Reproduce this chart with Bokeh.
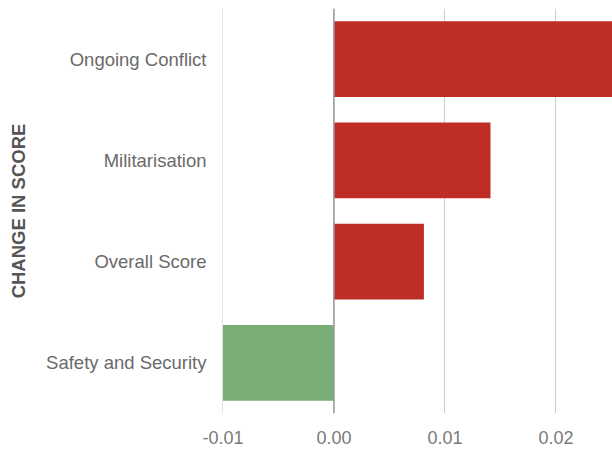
from bokeh.plotting import figure
from bokeh.models import FactorRange, Range1d, FixedTicker, NumeralTickFormatter, Span, ColumnDataSource
from bokeh.embed import file_html
from bokeh.resources import INLINE

# ---- data ----
categories = ["Ongoing Conflict", "Militarisation", "Overall Score", "Safety and Security"]
changes = [0.0258, 0.0141, 0.0081, -0.0100]
x_ticks = [-0.01, 0.0, 0.01, 0.02]
axis_title = "CHANGE IN SCORE"

POS_COLOR = "#BE2E26"
NEG_COLOR = "#79AE77"
FONT = "Liberation Sans"

colors = [POS_COLOR if v > 0 else NEG_COLOR for v in changes]
src = ColumnDataSource(dict(cat=categories, val=changes, color=colors))

p = figure(
    y_range=FactorRange(factors=list(reversed(categories))),
    x_range=Range1d(-0.01004, 0.02509),
    width=612, height=450,
    output_backend="svg", toolbar_location=None,
    min_border_left=222, min_border_right=0,
    min_border_top=8, min_border_bottom=37,
)
p.outline_line_color = None
p.background_fill_color = "white"
p.border_fill_color = "white"

p.hbar(y="cat", left=0, right="val", height=0.75, fill_color="color",
       line_color=None, source=src)

# grid
p.xgrid.ticker = FixedTicker(ticks=x_ticks)
p.xgrid.grid_line_color = "#cccccc"
p.xgrid.grid_line_width = 1
p.ygrid.visible = False

zero = Span(location=0, dimension="height", line_color="#999999", line_width=1.5)
p.add_layout(zero)

# x axis
p.xaxis.ticker = FixedTicker(ticks=x_ticks)
p.xaxis.formatter = NumeralTickFormatter(format="0.00")
p.xaxis.axis_line_color = None
p.xaxis.major_tick_line_color = None
p.xaxis.minor_tick_line_color = None
p.xaxis.major_tick_out = 0
p.xaxis.major_tick_in = 0
p.xaxis.major_label_standoff = 17
p.xaxis.major_label_text_font = FONT
p.xaxis.major_label_text_font_size = "18px"
p.xaxis.major_label_text_color = "#7a7a7a"

# y axis
p.yaxis.axis_label = axis_title
p.yaxis.axis_label_text_font = FONT
p.yaxis.axis_label_text_font_style = "bold"
p.yaxis.axis_label_text_font_size = "18.5px"
p.yaxis.axis_label_text_color = "#555555"
p.yaxis.axis_label_standoff = 14
p.yaxis.axis_line_color = None
p.yaxis.major_tick_line_color = None
p.yaxis.major_tick_out = 0
p.yaxis.major_tick_in = 0
p.yaxis.major_label_standoff = 16
p.yaxis.major_label_text_font = FONT
p.yaxis.major_label_text_font_size = "18.5px"
p.yaxis.major_label_text_color = "#6a6a6a"

open("out.html", "w").write(file_html(p, INLINE))
